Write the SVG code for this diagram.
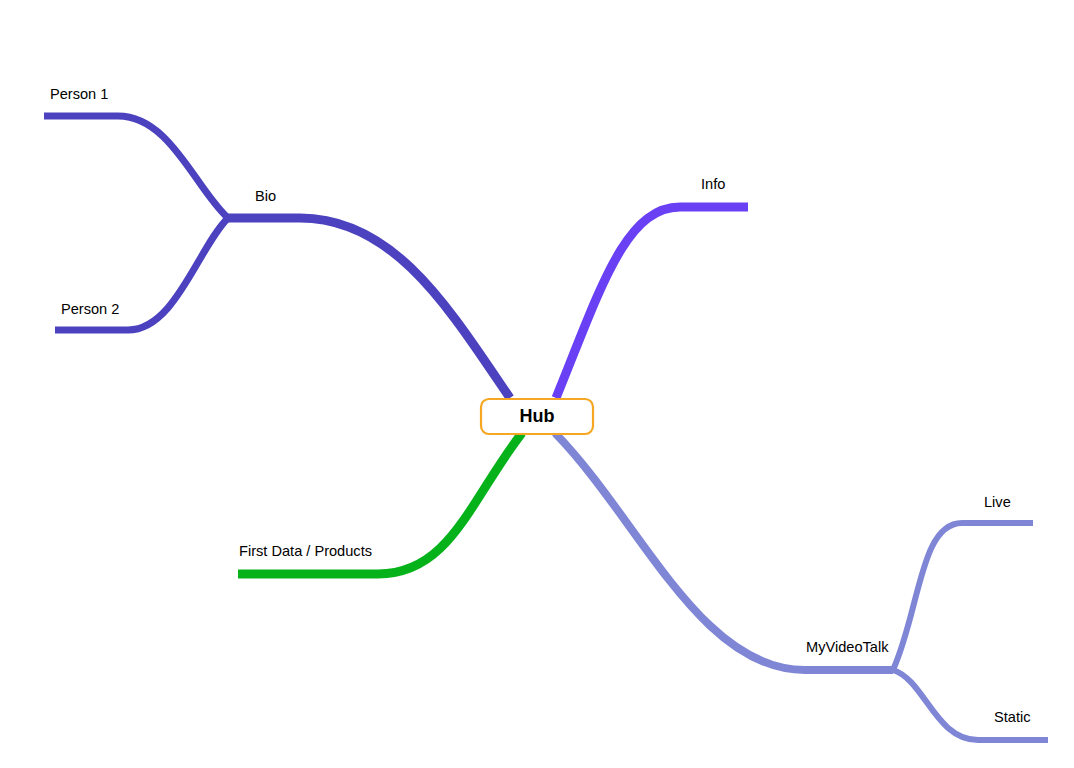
<svg xmlns="http://www.w3.org/2000/svg" width="1074" height="768" viewBox="0 0 1074 768">
<style>
.c{fill:none;stroke-linecap:butt;stroke-linejoin:round}
.lbl{font-family:"Liberation Sans",Arial,sans-serif;font-size:14.6px;fill:#000}
.hub{font-family:"Liberation Sans",Arial,sans-serif;font-size:18px;font-weight:bold;fill:#000}
</style>
<rect width="1074" height="768" fill="#fff"/>
<g id="connectors">
<path class="c" d="M228,218 L300,218 C395,218 450,310 510,398" stroke="#4C42BF" stroke-width="9"/>
<path class="c" d="M44,116 L118,116 C170,116 195,188 228,218" stroke="#4C42BF" stroke-width="7"/>
<path class="c" d="M55,330 L128,330 C175,330 198,248 228,218" stroke="#4C42BF" stroke-width="7"/>
<path class="c" d="M556,398 C600,290 625,207 680,207 L748,207" stroke="#6A40F5" stroke-width="9"/>
<path class="c" d="M522,433 C470,500 450,574 378,574 L238,574" stroke="#06B21A" stroke-width="9"/>
<path class="c" d="M555,433 C640,520 700,670 805,670 L893,670" stroke="#7F86D6" stroke-width="8"/>
<path class="c" d="M893,670 C920,610 920,523 962,523 L1033,523" stroke="#7F86D6" stroke-width="6"/>
<path class="c" d="M893,670 C925,680 935,740 978,740 L1048,740" stroke="#7F86D6" stroke-width="6"/>
</g>
<g id="hub">
<rect x="481" y="399" width="112" height="35" rx="8" fill="#fff" stroke="#F5A623" stroke-width="2.2"/>
<text class="hub" x="537" y="422" text-anchor="middle">Hub</text>
</g>
<g id="bio"><text class="lbl" x="255" y="201">Bio</text></g>
<g id="person1"><text class="lbl" x="50" y="99">Person 1</text></g>
<g id="person2"><text class="lbl" x="61" y="314">Person 2</text></g>
<g id="info"><text class="lbl" x="701" y="189">Info</text></g>
<g id="firstdata"><text class="lbl" x="239" y="556">First Data / Products</text></g>
<g id="myvideotalk"><text class="lbl" x="806" y="652">MyVideoTalk</text></g>
<g id="live"><text class="lbl" x="984" y="507">Live</text></g>
<g id="static"><text class="lbl" x="994" y="722">Static</text></g>
</svg>
